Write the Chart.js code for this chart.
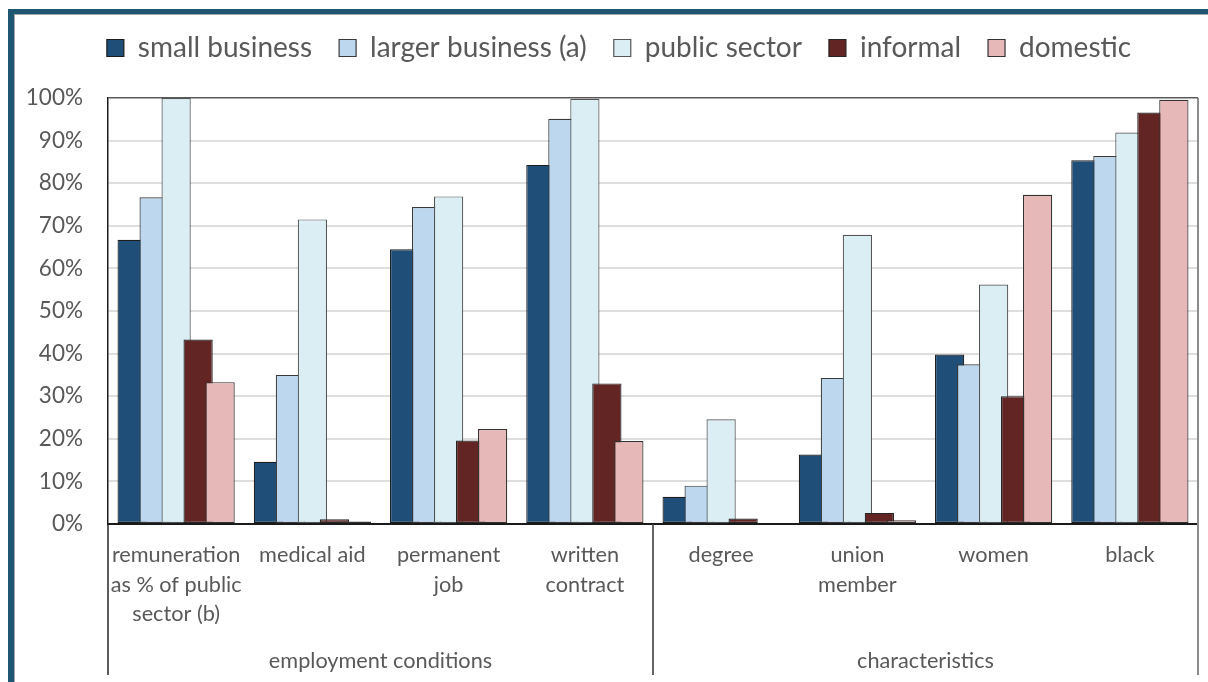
<!DOCTYPE html>
<html><head><meta charset="utf-8">
<script src="https://cdn.jsdelivr.net/npm/chart.js@4"></script>
<style>
html,body{margin:0;padding:0;background:#fff;}
#wrap{position:relative;width:1208px;height:682px;overflow:hidden;background:#fff;}
#frame{position:absolute;left:8px;top:9px;width:1400px;height:900px;border-top:5px solid #1f5773;border-left:6px solid #1f5773;}
#inner{position:absolute;left:0;top:0;right:0;bottom:0;border-top:1.5px solid #a6a6a6;border-left:1.5px solid #a6a6a6;}
#c{position:absolute;left:0;top:0;}
</style></head>
<body><div id="wrap"><div id="frame"><div id="inner"></div></div><canvas id="c" width="1208" height="682"></canvas></div>
<script>
const categories = [
  ["remuneration","as % of public","sector (b)"],
  "medical aid",
  ["permanent","job"],
  ["written","contract"],
  "degree",
  ["union","member"],
  "women",
  "black"
];
const groupNames = ["employment conditions", "characteristics"];
const groupSizes = [4, 4];
const seriesNames = ["small business", "larger business (a)", "public sector", "informal", "domestic"];
const smallBusiness  = [66.7, 14.6, 64.5, 84.3, 6.4, 16.3, 39.8, 85.4];
const largerBusiness = [76.7, 35.0, 74.4, 95.1, 9.0, 34.3, 37.5, 86.4];
const publicSector   = [100, 71.5, 76.9, 99.8, 24.6, 67.9, 56.2, 91.9];
const informal       = [43.3, 1.1, 19.6, 33.0, 1.3, 2.6, 30.0, 96.6];
const domestic       = [33.3, 0.6, 22.3, 19.5, 0.2, 0.9, 77.3, 99.6];
const yTicks = [0,10,20,30,40,50,60,70,80,90,100];

const fills = ["#1f4e79", "#bdd7ee", "#daeef3", "#632523", "#e6b8b7"];
const borders = ["#1c1c1c", "#3a3a3a", "#555555", "#262626", "#333333"];
const seriesValues = [smallBusiness, largerBusiness, publicSector, informal, domestic];

const FONT = "Lato";
const TXT = "#595959";

const drawOrder = {
  id: 'drawOrder',
  beforeDatasetsDraw(chart) {
    const metas = chart.getSortedVisibleDatasetMetas();
    for (let i = 0; i < metas.length; i++) chart._drawDataset(metas[i]);
    return false;
  }
};
const legendTweak = {
  id: 'legendTweak',
  beforeLayout(chart) {
    const lg = chart.legend;
    if (lg && !lg._patched) {
      const f = lg.fit;
      lg.fit = function () { f.call(this); this.height += 26; };
      const d = lg.draw;
      lg.draw = function () {
        const ctx = this.ctx;
        ctx.save(); ctx.translate(20, 0); d.call(this); ctx.restore();
      };
      lg._patched = true;
    }
  }
};
const groupAxis = {
  id: 'groupAxis',
  afterDraw(chart) {
    const ctx = chart.ctx, xs = chart.scales.x, ca = chart.chartArea;
    const bottomY = 675;
    ctx.save();
    ctx.lineWidth = 1.5;
    ctx.strokeStyle = '#262626';
    ctx.beginPath(); ctx.moveTo(ca.left, ca.bottom); ctx.lineTo(ca.left, bottomY); ctx.stroke();
    let idx = 0;
    ctx.font = "21.7px " + FONT;
    ctx.fillStyle = TXT;
    ctx.textAlign = 'center';
    ctx.textBaseline = 'middle';
    groupSizes.forEach((n, g) => {
      const xL = xs.getPixelForValue(idx - 0.5);
      const xR = xs.getPixelForValue(idx + n - 0.5);
      ctx.fillText(groupNames[g], (xL + xR) / 2, 661);
      const last = g === groupSizes.length - 1;
      ctx.strokeStyle = last ? '#8c8c8c' : '#333333';
      ctx.lineWidth = last ? 2 : 1.5;
      ctx.beginPath();
      ctx.moveTo(xR, last ? ca.top : ca.bottom);
      ctx.lineTo(xR, bottomY);
      ctx.stroke();
      idx += n;
    });
    ctx.restore();
  }
};

new Chart(document.getElementById('c'), {
  type: 'bar',
  data: {
    labels: categories,
    datasets: seriesNames.map((name, i) => ({
      label: name,
      data: seriesValues[i],
      backgroundColor: fills[i],
      borderColor: borders[i],
      borderWidth: 1.2,
      borderSkipped: false,
      categoryPercentage: 0.807,
      barPercentage: 1.33
    }))
  },
  options: {
    responsive: false,
    animation: false,
    layout: { padding: { top: 7, left: 0, right: 10, bottom: 0 } },
    plugins: {
      tooltip: { enabled: false },
      legend: {
        position: 'top',
        labels: {
          boxWidth: 17, boxHeight: 17, padding: 27,
          color: TXT,
          font: { family: FONT, size: 28 }
        }
      }
    },
    scales: {
      x: {
        grid: { display: false, drawTicks: false },
        border: { display: true, color: '#1a1a1a', width: 2 },
        ticks: {
          color: TXT, autoSkip: false, maxRotation: 0, minRotation: 0, padding: 16.5,
          font: { family: FONT, size: 21.7, lineHeight: 1.36 }
        },
        afterFit(s) { s.height = 158; }
      },
      y: {
        min: 0, max: 100,
        afterBuildTicks(s) { s.ticks = yTicks.map(v => ({ value: v })); },
        grid: {
          drawTicks: false,
          color: c => (c.tick && c.tick.value === 100) ? '#5a5a5a' : '#dedede',
          lineWidth: c => (c.tick && c.tick.value === 100) ? 1.5 : 2
        },
        border: { display: true, color: '#1a1a1a', width: 1.5 },
        ticks: {
          color: TXT, padding: 25,
          font: { family: FONT, size: 22.5 },
          callback: v => v + '%'
        },
        afterFit(s) { s.width = 108; }
      }
    }
  },
  plugins: [drawOrder, legendTweak, groupAxis]
});
</script>
</body></html>
